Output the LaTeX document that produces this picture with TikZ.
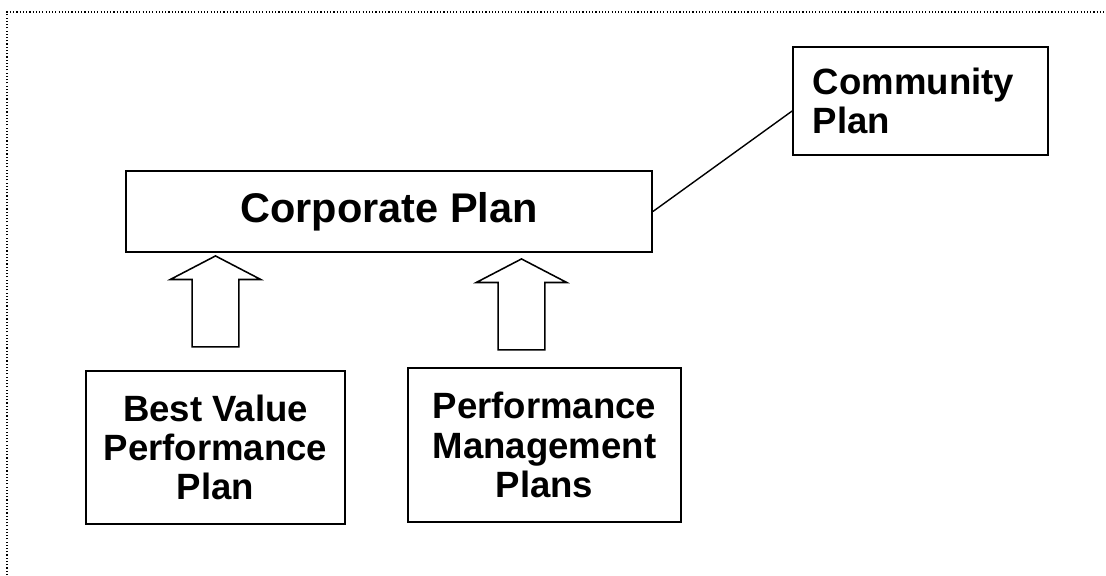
\documentclass[tikz,border=0pt]{standalone}
\usepackage{fontspec}
\setmainfont{Liberation Sans}
\usetikzlibrary{shapes.arrows}
\tikzset{
    planbox/.style={draw, line width=1.2pt, align=center, inner sep=0pt, font=\bfseries\fontsize{26}{28}\selectfont},
    mainplan/.style={planbox, font=\bfseries\fontsize{29.5}{31}\selectfont},
    sideplan/.style={planbox, align=left, inner xsep=0.5cm, text width=5.375cm},
    feedarrow/.style={draw, line width=1.1pt, single arrow, rotate=90, inner xsep=0pt, inner ysep=0.5625cm,
        single arrow head extend=0.55cm, single arrow tip angle=125, minimum height=2.275cm}
}
\begin{document}
\begin{tikzpicture}[x=0.025cm, y=-0.025cm]
\useasboundingbox (0,0) rectangle (1106,575);
% dotted frame, top and left only
\draw[line width=0.8pt, dash pattern=on 0.8pt off 1.5pt] (7,575) -- (7,12) -- (1106,12);

\node[mainplan, minimum width=13.15cm, minimum height=2.025cm] (corp) at (389,211.5) {Corporate Plan};
\node[sideplan, minimum height=2.7cm] (comm) at (920.5,101) {Community\\Plan};
\node[planbox, minimum width=6.475cm, minimum height=3.825cm] (bvpp) at (215.5,447.5) {Best Value\\Performance\\Plan};
\node[planbox, minimum width=6.825cm, minimum height=3.85cm] (pmp) at (544.5,445) {Performance\\Management\\Plans};

\node[feedarrow] (up1) at (215.5,307.5) {};
\node[feedarrow] (up2) at (521.5,310.5) {};

\draw[line width=1pt] (corp.east) -- ([yshift=-0.25cm]comm.west);

\end{tikzpicture}
\end{document}
